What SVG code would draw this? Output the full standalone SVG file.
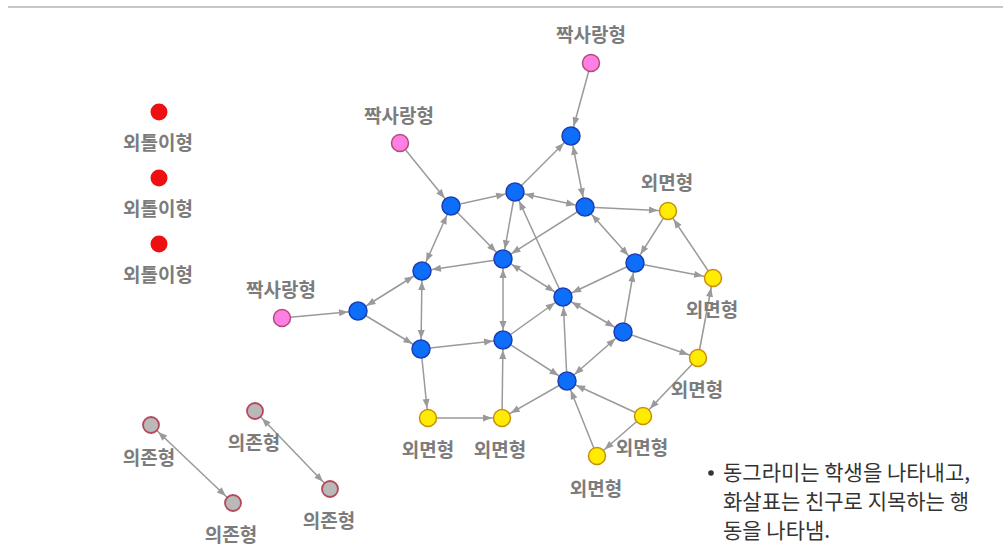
<svg xmlns="http://www.w3.org/2000/svg" width="1003" height="558" viewBox="0 0 1003 558">
<style>
.e{stroke:#9a9a9a;stroke-width:1.5;fill:none;marker-end:url(#ah)}
.b{marker-start:url(#ah)}
.blue{fill:#0d6efa;stroke:#1a3fb5;stroke-width:1.5}
.yel{fill:#ffec00;stroke:#c8900a;stroke-width:1.5}
.pink{fill:#ff7fe4;stroke:#b04b7a;stroke-width:1.5}
.red{fill:#ee1010}
.gray{fill:#b9b9b9;stroke:#b5485a;stroke-width:1.8}
.lb{font-family:"Noto Sans CJK KR","Noto Sans",sans-serif;font-size:19px;fill:#7c7c7c;text-anchor:middle;font-weight:bold}
.tx{font-family:"Noto Sans CJK KR","Noto Sans",sans-serif;font-size:21px;fill:#333}
</style>
<defs>
<marker id="ah" markerUnits="userSpaceOnUse" markerWidth="10" markerHeight="8" refX="19" refY="3.5" orient="auto-start-reverse" style="overflow:visible">
<path d="M0,0 L9,3.5 L0,7 Z" fill="#9a9a9a"/>
</marker>
</defs>
<rect width="1003" height="558" fill="#fff"/>
<line x1="8" y1="7" x2="1003" y2="7" stroke="#c8c8c8" stroke-width="2"/>
<g id="connectors">
<line class="e" x1="591" y1="63" x2="571" y2="136"/>
<line class="e" x1="400" y1="143" x2="451" y2="206"/>
<line class="e" x1="282" y1="318" x2="358" y2="311"/>
<line class="e" x1="451" y1="206" x2="515" y2="192"/>
<line class="e" x1="515" y1="192" x2="571" y2="136"/>
<line class="e b" x1="571" y1="136" x2="585" y2="207"/>
<line class="e b" x1="515" y1="192" x2="585" y2="207"/>
<line class="e" x1="451" y1="206" x2="503" y2="259"/>
<line class="e b" x1="451" y1="206" x2="422" y2="271"/>
<line class="e" x1="515" y1="192" x2="503" y2="259"/>
<line class="e" x1="585" y1="207" x2="503" y2="259"/>
<line class="e" x1="503" y1="259" x2="422" y2="271"/>
<line class="e" x1="563" y1="297" x2="515" y2="192"/>
<line class="e b" x1="585" y1="207" x2="635" y2="263"/>
<line class="e" x1="585" y1="207" x2="668" y2="211"/>
<line class="e" x1="668" y1="211" x2="635" y2="263"/>
<line class="e" x1="635" y1="263" x2="713" y2="278"/>
<line class="e" x1="713" y1="278" x2="668" y2="211"/>
<line class="e" x1="635" y1="263" x2="563" y2="297"/>
<line class="e b" x1="503" y1="259" x2="563" y2="297"/>
<line class="e b" x1="422" y1="271" x2="358" y2="311"/>
<line class="e b" x1="422" y1="271" x2="421" y2="349"/>
<line class="e" x1="358" y1="311" x2="421" y2="349"/>
<line class="e" x1="421" y1="349" x2="503" y2="340"/>
<line class="e" x1="421" y1="349" x2="428" y2="418"/>
<line class="e" x1="428" y1="418" x2="502" y2="418"/>
<line class="e" x1="502" y1="418" x2="503" y2="340"/>
<line class="e b" x1="503" y1="259" x2="503" y2="340"/>
<line class="e" x1="503" y1="340" x2="563" y2="297"/>
<line class="e" x1="503" y1="340" x2="567" y2="381"/>
<line class="e" x1="567" y1="381" x2="563" y2="297"/>
<line class="e b" x1="563" y1="297" x2="623" y2="332"/>
<line class="e" x1="623" y1="332" x2="635" y2="263"/>
<line class="e" x1="623" y1="332" x2="698" y2="358"/>
<line class="e b" x1="623" y1="332" x2="567" y2="381"/>
<line class="e" x1="567" y1="381" x2="502" y2="418"/>
<line class="e" x1="643" y1="416" x2="567" y2="381"/>
<line class="e" x1="597" y1="456" x2="567" y2="381"/>
<line class="e" x1="698" y1="358" x2="713" y2="278"/>
<line class="e" x1="698" y1="358" x2="643" y2="416"/>
<line class="e" x1="643" y1="416" x2="597" y2="456"/>
<line class="e b" x1="151" y1="425" x2="233" y2="503"/>
<line class="e b" x1="255" y1="411" x2="330" y2="489"/>
</g>
<g id="n-p1"><circle class="pink" cx="591" cy="63" r="8.5"/><text class="lb" x="591" y="42">짝사랑형</text></g>
<g id="n-p2"><circle class="pink" cx="400" cy="143" r="8.5"/><text class="lb" x="399" y="123">짝사랑형</text></g>
<g id="n-p3"><circle class="pink" cx="282" cy="318" r="8.5"/><text class="lb" x="281" y="297">짝사랑형</text></g>
<g id="n-b1"><circle class="blue" cx="571" cy="136" r="9"/></g>
<g id="n-b2"><circle class="blue" cx="515" cy="192" r="9"/></g>
<g id="n-b3"><circle class="blue" cx="451" cy="206" r="9"/></g>
<g id="n-b4"><circle class="blue" cx="585" cy="207" r="9"/></g>
<g id="n-b5"><circle class="blue" cx="422" cy="271" r="9"/></g>
<g id="n-b6"><circle class="blue" cx="503" cy="259" r="9"/></g>
<g id="n-b7"><circle class="blue" cx="635" cy="263" r="9"/></g>
<g id="n-b8"><circle class="blue" cx="358" cy="311" r="9"/></g>
<g id="n-b9"><circle class="blue" cx="563" cy="297" r="9"/></g>
<g id="n-b10"><circle class="blue" cx="623" cy="332" r="9"/></g>
<g id="n-b11"><circle class="blue" cx="421" cy="349" r="9"/></g>
<g id="n-b12"><circle class="blue" cx="503" cy="340" r="9"/></g>
<g id="n-b13"><circle class="blue" cx="567" cy="381" r="9"/></g>
<g id="n-y1"><circle class="yel" cx="668" cy="211" r="8.5"/><text class="lb" x="667" y="190">외면형</text></g>
<g id="n-y2"><circle class="yel" cx="713" cy="278" r="8.5"/><text class="lb" x="712" y="317">외면형</text></g>
<g id="n-y3"><circle class="yel" cx="698" cy="358" r="8.5"/><text class="lb" x="697" y="397">외면형</text></g>
<g id="n-y4"><circle class="yel" cx="643" cy="416" r="8.5"/><text class="lb" x="642" y="455">외면형</text></g>
<g id="n-y5"><circle class="yel" cx="597" cy="456" r="8.5"/><text class="lb" x="596" y="496">외면형</text></g>
<g id="n-y6"><circle class="yel" cx="428" cy="418" r="8.5"/><text class="lb" x="428" y="457">외면형</text></g>
<g id="n-y7"><circle class="yel" cx="502" cy="418" r="8.5"/><text class="lb" x="500" y="457">외면형</text></g>
<g id="n-r1"><circle class="red" cx="159" cy="112" r="8.5"/><text class="lb" x="158" y="150">외톨이형</text></g>
<g id="n-r2"><circle class="red" cx="159" cy="178" r="8.5"/><text class="lb" x="158" y="216">외톨이형</text></g>
<g id="n-r3"><circle class="red" cx="159" cy="244" r="8.5"/><text class="lb" x="158" y="282">외톨이형</text></g>
<g id="n-g1"><circle class="gray" cx="151" cy="425" r="8"/><text class="lb" x="149" y="465">의존형</text></g>
<g id="n-g2"><circle class="gray" cx="233" cy="503" r="8"/><text class="lb" x="231" y="542">의존형</text></g>
<g id="n-g3"><circle class="gray" cx="255" cy="411" r="8"/><text class="lb" x="254" y="450">의존형</text></g>
<g id="n-g4"><circle class="gray" cx="330" cy="489" r="8"/><text class="lb" x="329" y="528">의존형</text></g>
<g id="note">
<circle cx="711" cy="473" r="2.8" fill="#333"/>
<text class="tx" x="723" y="480">동그라미는 학생을 나타내고,</text>
<text class="tx" x="723" y="509">화살표는 친구로 지목하는 행</text>
<text class="tx" x="723" y="538">동을 나타냄.</text>
</g>
</svg>
